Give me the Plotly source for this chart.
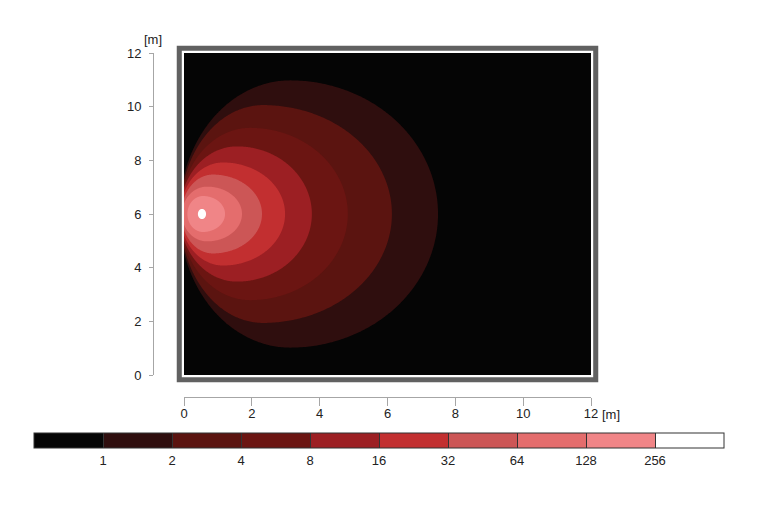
import numpy as np
import plotly.graph_objects as go

# ---------------- data ----------------
# lower bound of each band (log2 steps) and band colours (below 1 ... above 256)
levels = [1, 2, 4, 8, 16, 32, 64, 128, 256]
level_labels = ["1", "2", "4", "8", "16", "32", "64", "128", "256"]
band_colors = ["#050505", "#2f0e0e", "#5b1410", "#6b1512", "#9c1f23",
               "#c22f30", "#cc5656", "#e46d6d", "#f08587", "#ffffff"]

# outline of each contour level (metres): x of top point, right extent,
# left extent at the centre line (negative = cut by the wall), half height
center_y = 6.0
top_x = [3.13, 2.33, 1.95, 1.56, 1.15, 0.85, 0.68, 0.56, 0.53]
right_x = [7.49, 6.13, 4.83, 3.77, 2.98, 2.30, 1.71, 1.21, 0.65]
left_x = [-0.14, -0.12, -0.125, -0.13, -0.11, -0.075, -0.056, 0.10, 0.41]
half_height = [4.98, 4.06, 3.21, 2.52, 1.92, 1.47, 1.02, 0.67, 0.19]

x_ticks = [0, 2, 4, 6, 8, 10, 12]
y_ticks = [0, 2, 4, 6, 8, 10, 12]

# ---------------- layout geometry (page has an 8px body margin) ----------------
OFF = 8
W, H = 774 - OFF, 517 - OFF


def px(v):
    return v - OFF


ML = px(153)               # y-axis line
MT = px(53)                # top of data area
X_AX = px(397)             # x-axis line
MR = W - px(591)           # right edge of data area
MB = H - X_AX
PW = W - ML - MR
PH = H - MT - MB
x_dom0 = (px(184) - ML) / PW
y_dom0 = (X_AX - px(375)) / PH
DW = PW * (1 - x_dom0)
DH = PH * (1 - y_dom0)


def paper_x(p):
    return (px(p) - ML) / PW


def paper_y(p):
    return (X_AX - px(p)) / PH


fig = go.Figure()

t_r = np.linspace(-np.pi / 2, np.pi / 2, 241)
t_l = np.linspace(np.pi / 2, 3 * np.pi / 2, 241)
for k, lev in enumerate(levels):
    cx = top_x[k]
    ar = right_x[k] - cx
    al = cx - left_x[k]
    b = half_height[k]
    xs = np.concatenate([cx + ar * np.cos(t_r), cx + al * np.cos(t_l)])
    ys = np.concatenate([center_y + b * np.sin(t_r), center_y + b * np.sin(t_l)])
    xs = np.maximum(xs, 0)
    fig.add_trace(go.Scatter(
        x=xs, y=ys, mode="none", fill="toself",
        fillcolor=band_colors[k + 1], hoverinfo="skip", showlegend=False,
        name=">= %s" % level_labels[k]))

# stepped colour scale for the legend bar: band k centred at k/(n)
n = len(levels)
cscale = [[0.0, band_colors[0]]]
for k in range(1, n + 1):
    edge = (k - 0.5) / n
    cscale.append([edge, band_colors[k - 1]])
    cscale.append([edge, band_colors[k]])
cscale.append([1.0, band_colors[n]])

fig.add_trace(go.Contour(
    x=[-40, -39], y=[-40, -39], z=[[0, n + 1], [0, n + 1]],
    autocontour=False, zmin=0, zmax=n + 1,
    contours=dict(start=1, end=n, size=1, coloring="fill", showlines=True),
    line=dict(color="#333333", width=1),
    colorscale=cscale, showscale=True, hoverinfo="skip",
    colorbar=dict(
        orientation="h", x=paper_x(379), xanchor="center",
        y=paper_y(433), yanchor="top",
        lenmode="pixels", len=690, thicknessmode="pixels", thickness=15,
        xpad=0, ypad=0, outlinecolor="#333333", outlinewidth=1,
        tickmode="array", tickvals=list(range(1, n + 1)), ticktext=level_labels,
        ticks="", tickfont=dict(size=13, color="#222222"),
    ),
))

axis_common = dict(
    range=[0, 12], showgrid=False, zeroline=False, showline=True,
    linecolor="#a6a6a6", linewidth=1, ticks="outside", tickcolor="#a6a6a6",
    tickwidth=1, tickmode="array", tickfont=dict(size=13, color="#222222"),
)
fig.update_layout(
    width=W, height=H,
    margin=dict(l=ML, r=MR, t=MT, b=MB, autoexpand=False),
    paper_bgcolor="white", plot_bgcolor="#050505",
    font=dict(family="Liberation Sans, Arial, sans-serif", size=13, color="#222222"),
    xaxis=dict(axis_common, domain=[x_dom0, 1], anchor="free", position=0,
               side="bottom", tickvals=x_ticks, ticklen=8, ticklabelstandoff=-4),
    yaxis=dict(axis_common, domain=[y_dom0, 1], anchor="free", position=0,
               side="left", tickvals=y_ticks, ticklen=4, ticklabelstandoff=5),
    showlegend=False,
)


# frame around the room: grey band and thin white line
def frame(off_px, width, color):
    dx = off_px / DW
    dy = off_px / DH
    return dict(type="rect", xref="x domain", yref="y domain",
                x0=-dx, x1=1 + dx, y0=-dy, y1=1 + dy,
                line=dict(color=color, width=width), layer="above")


fig.add_shape(**frame(4.5, 5.5, "#616161"))
fig.add_shape(**frame(1.2, 2, "#ffffff"))

fig.add_annotation(text="[m]", xref="paper", yref="paper", x=0, y=paper_y(40),
                   xanchor="center", yanchor="middle", showarrow=False,
                   font=dict(size=13, color="#222222"))
fig.add_annotation(text="[m]", xref="paper", yref="paper", x=paper_x(600),
                   y=paper_y(414), xanchor="left", yanchor="middle",
                   showarrow=False, font=dict(size=13, color="#222222"))

fig.write_html("out.html")
